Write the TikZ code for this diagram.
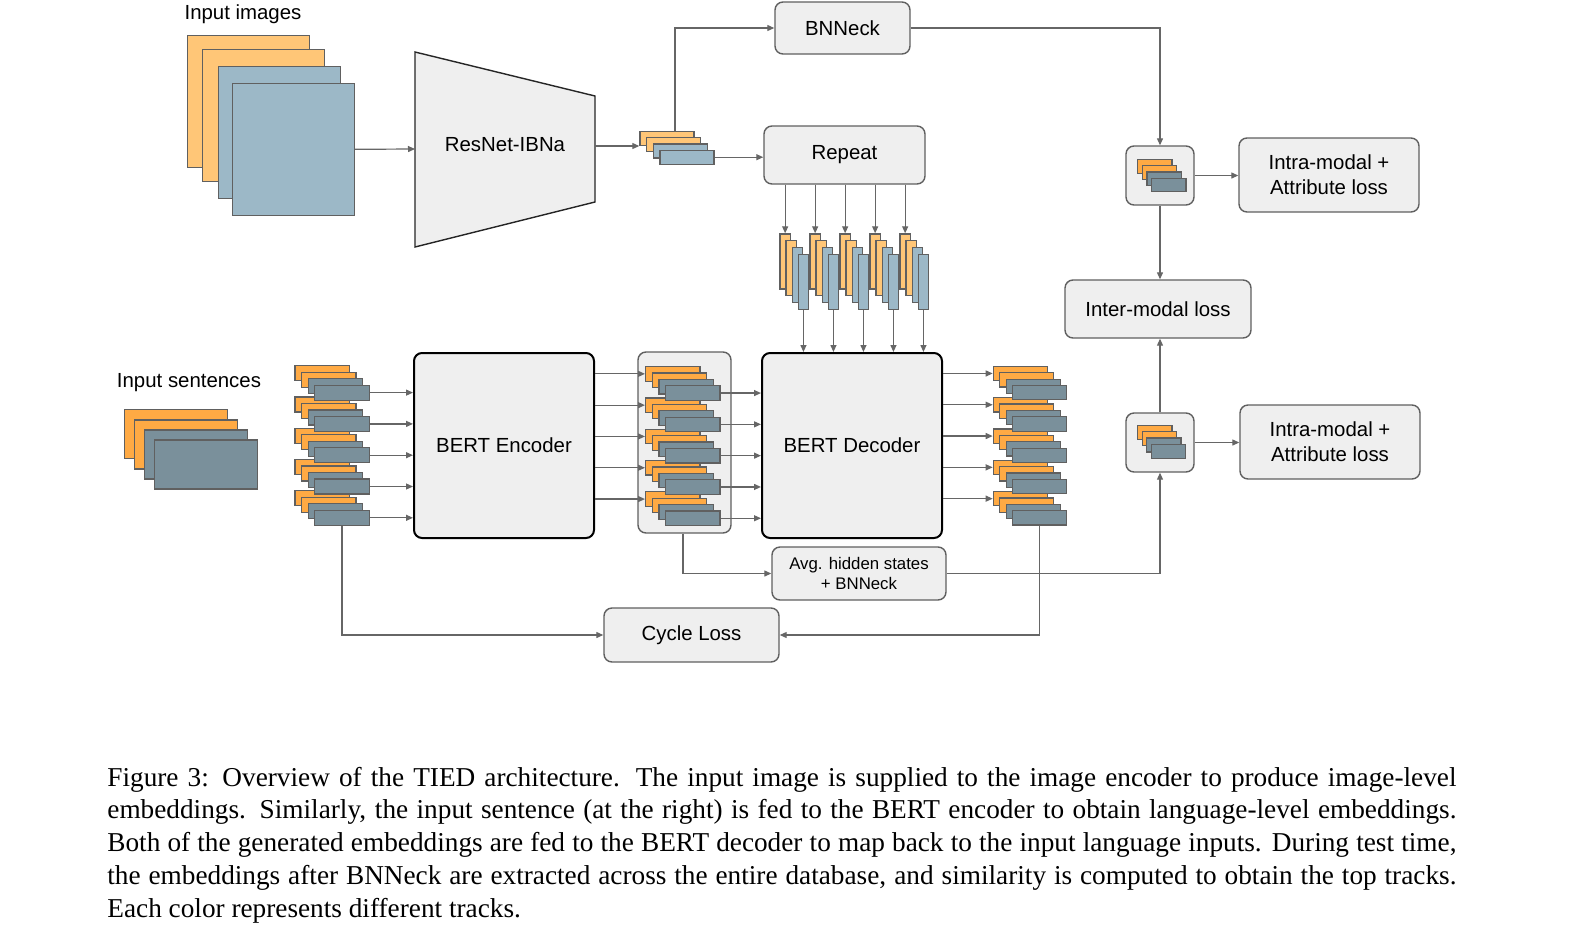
\documentclass[tikz,border=0pt]{standalone}
\usepackage{fontspec}
\setmainfont{Liberation Serif}
\newfontfamily\labfont{Liberation Sans}
\usetikzlibrary{arrows.meta}
\definecolor{lightA}{HTML}{FFC677}
\definecolor{lightB}{HTML}{9CB8C7}
\definecolor{darkA}{HTML}{FFAA44}
\definecolor{darkB}{HTML}{7A909B}
\definecolor{boxC}{HTML}{EFEFEF}
\definecolor{strokeC}{HTML}{606060}
\definecolor{lineC}{HTML}{666666}
\newcommand\embstack[8]{%
  \foreach \ii/\cc in {1/A,2/A,3/B,4/B}{%
    \node[er,fill=#8\cc,minimum width={#4*0.5pt},minimum height={#5*0.5pt},anchor=north west]
      (#1-\ii) at ({#2+(\ii-1)*(#6)},{#3+(\ii-1)*(#7)}) {};}}
\begin{document}
\begin{tikzpicture}[x=0.5pt,y=-0.5pt,
  er/.style={draw=strokeC,line width=0.6pt,inner sep=0pt,rectangle},
  lab/.style={font=\labfont\fontsize{10.2}{12.5}\selectfont,align=center,inner sep=0pt},
  box/.style={draw=strokeC,fill=boxC,rounded corners=4pt,line width=0.7pt,inner sep=0pt,
    font=\labfont\fontsize{10.2}{12.5}\selectfont,align=center},
  bert/.style={box,draw=black,line width=1pt},
  arr/.style={draw=lineC,line width=0.6pt,-{Triangle[length=3.5pt,width=3pt]}},
  ln/.style={draw=lineC,line width=0.6pt},
  captxt/.style={anchor=base west,inner sep=0pt,font=\fontsize{13.63}{16.35}\selectfont}]
\fill[white] (0,0) rectangle (1575,927);
\useasboundingbox (0,0) rectangle (1575,927);

% ---- labels
\node[lab] (limg) at (243,14) {Input images};
\node[lab] (lsen) at (189,383) {Input sentences};

% ---- input images
\node[er,fill=lightA,minimum width=61pt,minimum height=66pt,anchor=north west] (img-1) at (186.7,34.7) {};
\node[er,fill=lightA,minimum width=61pt,minimum height=66pt,anchor=north west] (img-2) at (202,49) {};
\node[er,fill=lightB,minimum width=61pt,minimum height=66pt,anchor=north west] (img-3) at (217.7,65.7) {};
\node[er,fill=lightB,minimum width=61pt,minimum height=66pt,anchor=north west] (img-4) at (231.7,82.7) {};

% ---- input sentences
\node[er,fill=darkA,minimum width=51.5pt,minimum height=24.5pt,anchor=north west] (sen-1) at (124,409) {};
\node[er,fill=darkA,minimum width=51.5pt,minimum height=24.5pt,anchor=north west] (sen-2) at (133.5,419.3) {};
\node[er,fill=darkB,minimum width=51.5pt,minimum height=24.5pt,anchor=north west] (sen-3) at (144,429.3) {};
\node[er,fill=darkB,minimum width=51.5pt,minimum height=24.5pt,anchor=north west] (sen-4) at (153.5,439.3) {};

% ---- ResNet
\draw[fill=boxC,draw=black!85,line width=0.7pt] (415,52) -- (595,96) -- (595,202) -- (415,247) -- cycle;
\node[lab] (res) at (505,145) {ResNet-IBNa};
\coordinate (resL) at (415,149);
\coordinate (resR) at (595,146);

% ---- boxes
\node[box,minimum width=67.5pt,minimum height=26pt] (bnn) at (842.5,28) {BNNeck};
\node[box,minimum width=80.5pt,minimum height=29pt] (rep) at (844.5,155) {Repeat};
\node[bert,minimum width=90pt,minimum height=92.5pt] (enc) at (504,445.5) {BERT Encoder};
\node[bert,minimum width=90pt,minimum height=92.5pt] (dec) at (852,445.5) {BERT Decoder};
\node[box,minimum width=46.5pt,minimum height=90.5pt] (midbox) at (684.5,442.5) {};
\node[box,minimum width=87pt,minimum height=26.5pt,font=\labfont\fontsize{8.4}{10}\selectfont] (avg) at (859,573.5) {Avg. hidden states\\+ BNNeck};
\node[box,minimum width=87.5pt,minimum height=27pt] (cyc) at (691.5,635) {Cycle Loss};
\node[box,minimum width=34pt,minimum height=29.5pt] (sb1) at (1160,175.5) {};
\node[box,minimum width=34pt,minimum height=29.5pt] (sb2) at (1160,442.5) {};
\node[box,minimum width=93pt,minimum height=29pt] (inter) at (1158,309) {Inter-modal loss};
\node[box,minimum width=90pt,minimum height=37pt] (in1) at (1329,175) {Intra-modal +\\Attribute loss};
\node[box,minimum width=90pt,minimum height=37pt] (in2) at (1330,442) {Intra-modal +\\Attribute loss};

% ---- embedding stacks
\embstack{ims}{639.3}{130.7}{54}{14}{6.7}{6.3}{light}
\foreach \k in {0,...,4}{\embstack{col\k}{779.3+30*\k}{233.3}{10.5}{55}{6.1}{6.9}{light}}
\foreach \k in {4,3,2,1,0}{\embstack{tl\k}{294.3}{365+31.3*\k}{54.5}{15}{6.6}{6.5}{dark}}
\foreach \k in {4,3,2,1,0}{\embstack{mid\k}{645}{366+31.3*\k}{54.3}{14.5}{6.7}{6.4}{dark}}
\foreach \k in {4,3,2,1,0}{\embstack{out\k}{992.7}{365.7+31.3*\k}{54}{14.3}{6.5}{6.4}{dark}}
\embstack{sa}{1137}{159}{34.3}{13.5}{4.7}{6.2}{dark}
\embstack{sbb}{1137}{424.7}{34.3}{14}{4.5}{6.3}{dark}

% ---- connectors
\draw[arr] (img-4.east) -- (resL);
\draw[arr] (resR) -- (resR -| ims-1.west);
\draw[arr] ([xshift=4pt]ims-1.north) |- (bnn.west);
\draw[arr] (ims-4.east) -- (ims-4.east -| rep.west);
\foreach \k in {0,...,4}{
  \draw[arr] (col\k-1.north |- rep.south) -- (col\k-1.north);
  \draw[arr] (col\k-4.south) -- (col\k-4.south |- dec.north);
  \draw[arr] (tl\k-4.east) -- (tl\k-4.east -| enc.west);
  \draw[arr] (mid\k-1.west -| enc.east) -- (mid\k-1.west);
  \draw[arr] (mid\k-4.east) -- (mid\k-4.east -| dec.west);
  \draw[arr] (out\k-1.west -| dec.east) -- (out\k-1.west);
}
\draw[arr] (bnn.east) -| (sb1.north);
\draw[arr] (sb1.east) -- (sb1.east -| in1.west);
\draw[arr] (sb1.south) -- (sb1.south |- inter.north);
\draw[arr] (sb2.north) -- (sb2.north |- inter.south);
\draw[arr] (sb2.east) -- (sb2.east -| in2.west);
\draw[arr] (avg.east) -| (sb2.south);
\draw[arr] ([xshift=-0.75pt]midbox.south) |- (avg.west);
\draw[arr] (tl4-4.south) |- (cyc.west);
\draw[arr] (out4-4.south) |- (cyc.east);

% ---- caption
\node[captxt] (c1) at (107,786) {\hbox to 674.5pt{Figure 3: Overview of the TIED architecture.  The input image is supplied to the image encoder to produce image-level}};
\node[captxt] (c2) at (107,818.75) {\hbox to 674.5pt{embeddings.  Similarly, the input sentence (at the right) is fed to the BERT encoder to obtain language-level embeddings.}};
\node[captxt] (c3) at (107,851.5) {\hbox to 674.5pt{Both of the generated embeddings are fed to the BERT decoder to map back to the input language inputs. During test time,}};
\node[captxt] (c4) at (107,884.25) {\hbox to 674.5pt{the embeddings after BNNeck are extracted across the entire database, and similarity is computed to obtain the top tracks.}};
\node[captxt] (c5) at (107,917) {Each color represents different tracks.};
\end{tikzpicture}
\end{document}
